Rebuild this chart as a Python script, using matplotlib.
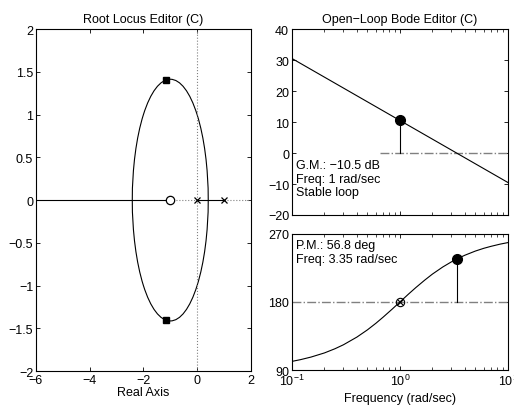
import numpy as np
import matplotlib
matplotlib.use("Agg")
import matplotlib.pyplot as plt
from matplotlib.patches import Circle

plt.rcParams['font.family'] = ['Liberation Sans', 'DejaVu Sans']
plt.rcParams['font.size'] = 9
plt.rcParams['axes.unicode_minus'] = True

# root locus data
ol_poles = [0.0, 1.0]
ol_zero = -1.0
cl_poles_re = [-1.175, -1.175]
cl_poles_im = [1.403, -1.403]
locus_center = -1.0
locus_radius = 1.414

# bode magnitude (straight line, dB)
mag_w = [0.1, 10.0]
mag_db = [30.5, -9.5]
gm_w = 1.0
gm_db = 10.5

# bode phase (deg)
ph_w = [0.1, 0.12, 0.15, 0.2, 0.25, 0.3, 0.4, 0.5, 0.6, 0.7, 0.85, 1.0,
        1.2, 1.4, 1.7, 2.0, 2.5, 3.0, 3.35, 4.0, 5.0, 6.0, 7.0, 8.5, 10.0]
ph_deg = [101.4, 103.7, 107.1, 112.6, 118.1, 123.4, 133.6, 143.1, 151.9, 160.0,
          170.7, 180.0, 190.4, 198.9, 209.0, 216.9, 226.4, 233.1, 236.8, 241.9,
          247.4, 251.1, 253.7, 256.6, 258.6]
pm_w = 3.35
pm_deg = 236.8

fig = plt.figure(figsize=(5.14, 4.06), dpi=100)

def style(ax):
    ax.tick_params(direction='in', top=True, right=True, length=3, width=0.6, labelsize=9, pad=2)
    ax.tick_params(which='minor', direction='in', top=True, right=True, length=2, width=0.5)
    for s in ax.spines.values():
        s.set_linewidth(0.8)

# ---- root locus
ax1 = fig.add_axes([0.070, 0.0837, 0.418, 0.842])
ax1.axvline(0, color='#808080', ls=':', lw=0.8)
ax1.plot([-1, 0], [0, 0], color='#808080', ls=':', lw=0.8)
ax1.plot([1, 2], [0, 0], color='#808080', ls=':', lw=0.8)
ax1.plot([-6, ol_zero], [0, 0], color='k', lw=0.8)
ax1.plot(ol_poles, [0, 0], color='k', lw=0.8)
ax1.add_patch(Circle((locus_center, 0), locus_radius, fill=False, ec='k', lw=0.8))
ax1.plot(ol_poles, [0, 0], 'kx', ms=5, mew=0.9)
ax1.plot([ol_zero], [0], 'o', mfc='white', mec='k', ms=6, mew=0.9)
ax1.plot(cl_poles_re, cl_poles_im, 's', color='k', ms=4.5)
ax1.set_xlim(-6, 2)
ax1.set_ylim(-2, 2)
ax1.set_xticks([-6, -4, -2, 0, 2])
ax1.set_yticks([-2, -1.5, -1, -0.5, 0, 0.5, 1, 1.5, 2])
ax1.set_yticklabels(['\u22122', '\u22121.5', '\u22121', '\u22120.5', '0', '0.5', '1', '1.5', '2'])
ax1.set_xlabel('Real Axis', labelpad=0)
ax1.set_title('Root Locus Editor (C)', fontsize=9, pad=5)
style(ax1)

# ---- bode magnitude
ax2 = fig.add_axes([0.568, 0.468, 0.420, 0.458])
ax2.set_xscale('log')
ax2.plot([0.66, 10], [0, 0], color='#808080', ls='-.', lw=1.0)
ax2.plot(mag_w, mag_db, color='k', lw=0.8)
ax2.plot([gm_w, gm_w], [0, gm_db], color='k', lw=0.8)
ax2.plot([gm_w], [gm_db], 'o', color='k', ms=7)
ax2.set_xlim(0.1, 10)
ax2.set_ylim(-20, 40)
ax2.set_yticks([-20, -10, 0, 10, 20, 30, 40])
ax2.text(0.02, 0.30, 'G.M.: \u221210.5 dB\nFreq: 1 rad/sec\nStable loop',
         transform=ax2.transAxes, fontsize=9, va='top', ha='left', linespacing=1.15)
ax2.set_title('Open\u2212Loop Bode Editor (C)', fontsize=9, pad=5)
style(ax2)
ax2.tick_params(which='both', labelbottom=False)

# ---- bode phase
ax3 = fig.add_axes([0.568, 0.0862, 0.420, 0.335])
ax3.set_xscale('log')
ax3.axhline(180, color='#808080', ls='-.', lw=1.0)
ax3.plot(ph_w, ph_deg, color='k', lw=0.8)
ax3.plot([pm_w, pm_w], [180, pm_deg], color='k', lw=0.8)
ax3.plot([pm_w], [pm_deg], 'o', color='k', ms=7)
ax3.plot([1.0], [180], 'o', mfc='none', mec='k', ms=6, mew=0.8)
ax3.plot([1.0], [180], 'x', color='k', ms=4, mew=0.8)
ax3.set_xlim(0.1, 10)
ax3.set_ylim(90, 270)
ax3.set_yticks([90, 180, 270])
ax3.set_xlabel('Frequency (rad/sec)', labelpad=3)
ax3.text(0.02, 0.96, 'P.M.: 56.8 deg\nFreq: 3.35 rad/sec',
         transform=ax3.transAxes, fontsize=9, va='top', ha='left', linespacing=1.15)
style(ax3)

fig.savefig('out.png', dpi=100)
